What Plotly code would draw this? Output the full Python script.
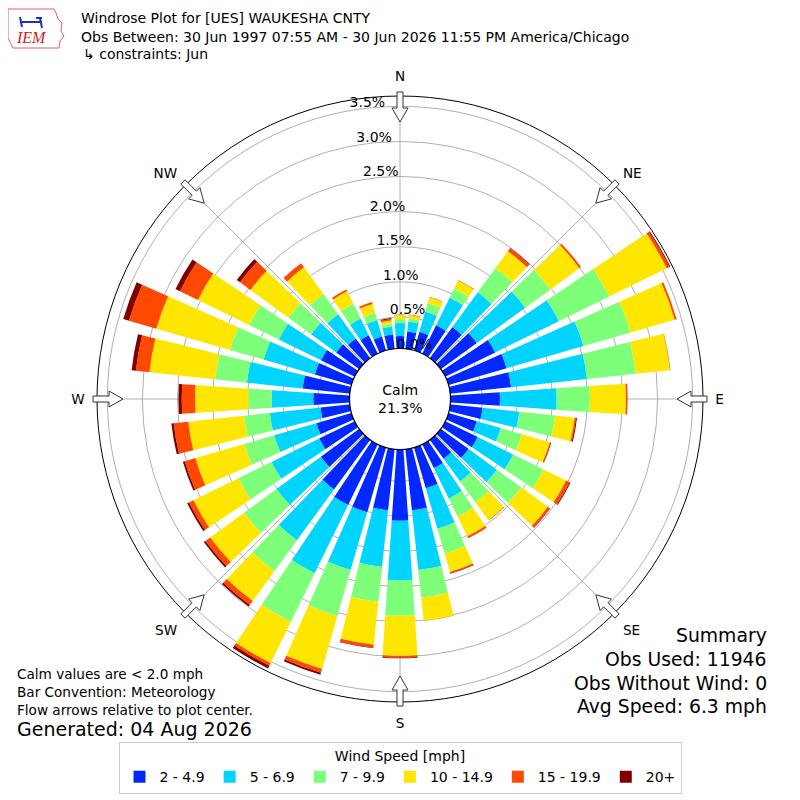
import math
import plotly.graph_objects as go

# ---------------- data ----------------
directions = list(range(0, 360, 10))
speed_labels = ["2 - 4.9", "5 - 6.9", "7 - 9.9", "10 - 14.9", "15 - 19.9", "20+"]
speed_colors = ["#0028ff", "#00d4ff", "#7dff7a", "#ffe600", "#ff4800", "#800000"]

spd_2_5 = [0.228, 0.299, 0.328, 0.499, 0.598, 0.684, 0.840, 0.912, 0.922, 0.755,
           0.513, 0.470, 0.563, 0.541, 0.385, 0.427, 0.655, 0.926, 1.064, 0.926,
           1.011, 1.011, 0.926, 0.726, 0.613, 0.570, 0.470, 0.566, 0.726, 0.593,
           0.584, 0.456, 0.399, 0.342, 0.256, 0.256]
spd_5_7 = [0.185, 0.142, 0.299, 0.442, 0.613, 0.855, 1.011, 1.140, 1.087, 0.808,
           0.527, 0.356, 0.563, 0.499, 0.399, 0.484, 0.598, 0.855, 0.855, 0.812,
           0.855, 1.083, 0.897, 0.783, 0.755, 0.627, 0.726, 0.593, 0.798, 0.761,
           0.670, 0.442, 0.427, 0.264, 0.242, 0.114]
spd_7_10 = [0.057, 0.043, 0.128, 0.142, 0.427, 0.442, 0.798, 0.698, 0.698, 0.474,
            0.513, 0.313, 0.484, 0.427, 0.370, 0.285, 0.370, 0.392, 0.499, 0.499,
            0.684, 0.769, 0.541, 0.570, 0.527, 0.442, 0.370, 0.333, 0.456, 0.499,
            0.470, 0.399, 0.356, 0.235, 0.107, 0.036]
spd_10_15 = [0.057, 0.050, 0.085, 0.128, 0.299, 0.513, 0.912, 0.655, 0.491, 0.513,
             0.278, 0.413, 0.356, 0.470, 0.313, 0.313, 0.271, 0.335, 0.570, 0.613,
             0.783, 0.655, 0.527, 0.598, 0.712, 0.726, 0.798, 0.759, 0.940, 1.091,
             0.812, 0.670, 0.470, 0.199, 0.135, 0.050]
spd_15_20 = [0.007, 0.007, 0.007, 0.007, 0.050, 0.028, 0.043, 0.028, 0.007, 0.024,
             0.021, 0.014, 0.057, 0.036, 0.007, 0.028, 0.021, 0.004, 0.026, 0.043,
             0.057, 0.043, 0.071, 0.085, 0.071, 0.157, 0.209, 0.189, 0.195, 0.405,
             0.285, 0.185, 0.071, 0.028, 0.028, 0.021]
spd_20p = [0.0, 0.0, 0.0, 0.0, 0.007, 0.0, 0.014, 0.0, 0.0, 0.0,
           0.014, 0.007, 0.014, 0.007, 0.0, 0.004, 0.007, 0.0, 0.011, 0.007,
           0.028, 0.043, 0.028, 0.028, 0.028, 0.028, 0.033, 0.048, 0.061, 0.085,
           0.071, 0.057, 0.0, 0.0, 0.0, 0.014]
series = [spd_2_5, spd_5_7, spd_7_10, spd_10_15, spd_15_20, spd_20p]

radial_ticks = [0.0, 0.5, 1.0, 1.5, 2.0, 2.5, 3.0, 3.5]
radial_labels = ["0.0%", "0.5%", "1.0%", "1.5%", "2.0%", "2.5%", "3.0%", "3.5%"]
compass_vals = [0, 45, 90, 135, 180, 225, 270, 315]
compass_labels = ["N", "NE", "E", "SE", "S", "SW", "W", "NW"]
calm_pct = "21.3%"

# ---------------- geometry ----------------
W = H = 800
OFF = 8            # page body margin of the browser
CX, CY, R = 400, 399, 303
R0 = 47
RCALM = 50.5
RMAX = 3.647
PX_PER_UNIT = (R - R0) / RMAX
LABEL_LIFT = 10 / PX_PER_UNIT      # radial labels sit ~10 px beyond their ring
FONT = "DejaVu Sans"


def px(x):
    return (x - OFF) / W


def py(y):
    return 1 - (y - OFF) / H


fig = go.Figure()
for vals, name, col in zip(series, speed_labels, speed_colors):
    fig.add_trace(go.Barpolar(r=vals, theta=directions, name=name,
                              marker=dict(color=col, line=dict(width=0)),
                              width=7.8, hoverinfo="skip"))

# overlay subplot that only carries the radial tick labels
fig.add_trace(go.Scatterpolar(r=[], theta=[], subplot="polar2", showlegend=False,
                              hoverinfo="skip"))

shapes = []
# calm disc in the centre
shapes.append(dict(type="circle", xref="paper", yref="paper",
                   x0=px(CX - RCALM), x1=px(CX + RCALM), y0=py(CY + RCALM), y1=py(CY - RCALM),
                   fillcolor="white", line=dict(color="black", width=1.2), layer="above"))
# flow arrows on the rim
for a in compass_vals:
    s, c = math.sin(math.radians(a)), math.cos(math.radians(a))
    pts = [(307, -3), (291, -3), (291, -8), (277, 0), (291, 8), (291, 3), (307, 3)]
    path = ""
    for i, (rr, ww) in enumerate(pts):
        x = CX + rr * s + ww * c
        y = CY - rr * c + ww * s
        path += ("M" if i == 0 else "L") + f"{px(x):.5f},{py(y):.5f} "
    path += "Z"
    shapes.append(dict(type="path", path=path, xref="paper", yref="paper",
                       line=dict(color="#333333", width=1), fillcolor="white"))

# logo outline
logo_pts = [(8, 9), (54, 9), (56, 13), (58, 19), (62, 23), (61, 31), (64, 36),
            (60, 41), (59, 48), (13, 48), (10, 42), (8, 38)]
lp = "".join(("M" if i == 0 else "L") + f"{px(x):.5f},{py(y):.5f} " for i, (x, y) in enumerate(logo_pts)) + "Z"
shapes.append(dict(type="path", path=lp, xref="paper", yref="paper",
                   line=dict(color="#e06060", width=1), fillcolor="rgba(0,0,0,0)"))
blue_lines = [((20, 22), (42, 22)), ((20, 17), (22, 27)), ((36, 18), (42, 18)), ((40, 18), (42, 28))]
for (x0, y0), (x1, y1) in blue_lines:
    shapes.append(dict(type="line", xref="paper", yref="paper", x0=px(x0), y0=py(y0),
                       x1=px(x1), y1=py(y1), line=dict(color="#2030c0", width=2)))

ann = []


def text(x, y, t, size=13, xanchor="left", **kw):
    ann.append(dict(x=px(x), y=py(y), xref="paper", yref="paper", text=t, showarrow=False,
                    xanchor=xanchor, yanchor="middle",
                    font=dict(family=kw.get("family", FONT), size=size, color=kw.get("color", "black"))))


text(79, 18, "Windrose Plot for [UES] WAUKESHA CNTY", size=14)
text(79, 37, "Obs Between: 30 Jun 1997 07:55 AM - 30 Jun 2026 11:55 PM America/Chicago", size=14)
text(81, 54, "↳ constraints: Jun", size=14)
text(14, 37, "<i>IEM</i>", size=16, family="Liberation Serif", color="#d02020")

text(15, 674, "Calm values are &lt; 2.0 mph", size=13.6)
text(15, 692, "Bar Convention: Meteorology", size=13.6)
text(15, 710, "Flow arrows relative to plot center.", size=13.6)
text(15, 729, "Generated: 04 Aug 2026", size=19)

text(769, 635, "Summary", size=18.8, xanchor="right")
text(769, 659, "Obs Used: 11946", size=18.8, xanchor="right")
text(769, 683, "Obs Without Wind: 0", size=18.8, xanchor="right")
text(769, 706, "Avg Speed: 6.3 mph", size=18.8, xanchor="right")

text(400, 399, "Calm<br>" + calm_pct, size=14, xanchor="center")

domain = dict(x=[px(CX - R), px(CX + R)], y=[py(CY + R), py(CY - R)])

fig.update_layout(
    width=W, height=H, margin=dict(l=0, r=0, t=0, b=0),
    paper_bgcolor="white", plot_bgcolor="white",
    font=dict(family=FONT, size=13, color="black"),
    polar=dict(
        domain=domain, hole=R0 / R, bgcolor="white", barmode="stack",
        radialaxis=dict(range=[0, RMAX], tickmode="array", tickvals=radial_ticks[1:],
                        showticklabels=False, showline=False, ticks="",
                        gridcolor="#b0b0b0", gridwidth=1, angle=101,
                        layer="above traces"),
        angularaxis=dict(rotation=90, direction="clockwise", tickmode="array",
                         tickvals=compass_vals, ticktext=compass_labels,
                         showline=True, linecolor="black", linewidth=1,
                         gridcolor="#b0b0b0", gridwidth=1, ticks="outside", ticklen=9,
                         tickcolor="rgba(0,0,0,0)", layer="above traces",
                         tickfont=dict(size=13.6, color="black")),
    ),
    polar2=dict(
        domain=domain, hole=R0 / R, bgcolor="rgba(0,0,0,0)",
        radialaxis=dict(range=[0, RMAX], tickmode="array",
                        tickvals=[t + LABEL_LIFT for t in radial_ticks],
                        ticktext=radial_labels, showgrid=False, showline=False, ticks="",
                        angle=101, tickangle=101, layer="above traces",
                        tickfont=dict(size=14, color="black")),
        angularaxis=dict(rotation=90, direction="clockwise", showgrid=False,
                         showline=False, showticklabels=False, ticks=""),
    ),
    legend=dict(orientation="h", x=px(400), xanchor="center", y=py(742), yanchor="top",
                title=dict(text="Wind Speed [mph]", side="top center", font=dict(size=14)),
                bordercolor="#cccccc", borderwidth=1, bgcolor="white", itemwidth=30,
                font=dict(size=14), traceorder="normal"),
    shapes=shapes, annotations=ann, showlegend=True,
)

fig.write_html("out.html")
